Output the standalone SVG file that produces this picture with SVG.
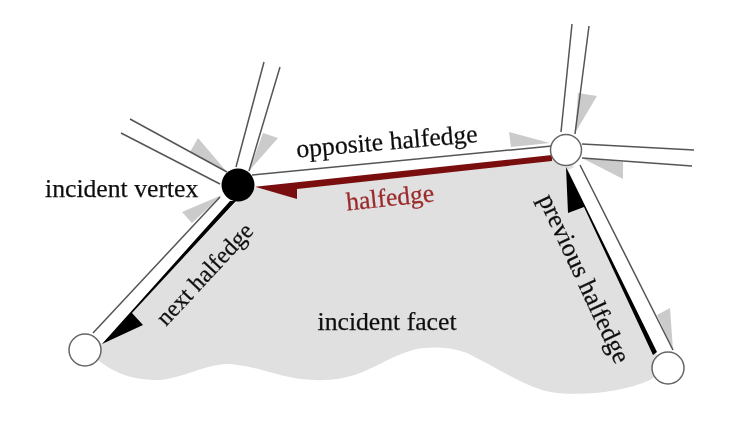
<svg xmlns="http://www.w3.org/2000/svg" width="736" height="444" viewBox="0 0 736 444">
<style>
.t{font-family:"Liberation Serif","Times New Roman",serif;font-size:25.7px;fill:#111;stroke:#111;stroke-width:.25}
.e{stroke:#555;stroke-width:1.5;fill:none}
.g{fill:#cbcbcb}
.w{fill:#fff;stroke:#666;stroke-width:1.5}
.k{fill:#000}
</style>
<defs><filter id="b" x="-5%" y="-5%" width="110%" height="110%"><feGaussianBlur stdDeviation="0.6"/></filter></defs>
<rect width="736" height="444" fill="#fff"/>
<g filter="url(#b)">
<g id="facet"><path fill="#e0e0e0" d="M238 185L566 150L668 368L650 380C625 391 590 396 557 393C530 390 505 372 467 353C450 347 430 346 413 350C390 356 370 372 347 377C325 382 305 381 280 375C265 371 250 366 230 364C205 363 180 381 153 380C130 379 112 372 98 360L85 350Z"/></g>
<g id="triangles">
<polygon class="g" points="198,138 190,152 227,172"/>
<polygon class="g" points="278,138 263,133 249,171"/>
<polygon class="g" points="182,212 192,223 222,195"/>
<polygon class="g" points="597,96 578,93 575,133"/>
<polygon class="g" points="509,132 511,147 550,143"/>
<polygon class="g" points="582,158 623,162 623,179"/>
<polygon class="g" points="670,308 657,315 673,350"/>
</g>
<g id="connectors">
<polygon fill="#fff" points="252,175 552,146 552,156 252,188"/>
<polygon fill="#fff" points="93,333 232,186 238,200 102,344"/>
<polygon fill="#fff" points="580,165 673,350 657,355 568,170"/>
<path class="e" d="M130 119L227 172M121 133L220 184M264 62L236 167M280 67L249 171"/>
<path class="e" d="M572 24L561 132M589 26L575 134M582 144L694 150M582 158L692 166"/>
<path class="e" d="M252 175L552 146M93 333L220 197M580 165L673 350"/>
<polygon class="k" points="102,344 230,201 236,201 132,313 143,325"/>
<polygon class="k" points="566,167 657,352 653,355 584,207 568,213"/>
<polygon fill="#7a1010" points="255,186.700 552,155 552,161 297,189 297,199"/>
</g>
<g id="v-incident"><circle cx="238" cy="185" r="16.500" fill="#000"/></g>
<g id="v-top-right"><circle class="w" cx="566" cy="150" r="15.500"/></g>
<g id="v-bottom-left"><circle class="w" cx="85" cy="350" r="16"/></g>
<g id="v-bottom-right"><circle class="w" cx="668" cy="368" r="16"/></g>
<g id="labels">
<text class="t" x="45" y="196.500">incident vertex</text>
<text class="t" x="297" y="157.500" transform="rotate(-4.900 297 157.500)">opposite halfedge</text>
<text class="t" x="347" y="210.500" transform="rotate(-6 347 210.500)" style="fill:#9b2a2a;stroke:#9b2a2a">halfedge</text>
<text class="t" x="166" y="327" transform="rotate(-47 166 327)" style="font-size:24px">next halfedge</text>
<text class="t" x="538" y="199" transform="rotate(65 538 199)">previous halfedge</text>
<text class="t" x="317.500" y="330">incident facet</text>
</g>
</g>
</svg>
